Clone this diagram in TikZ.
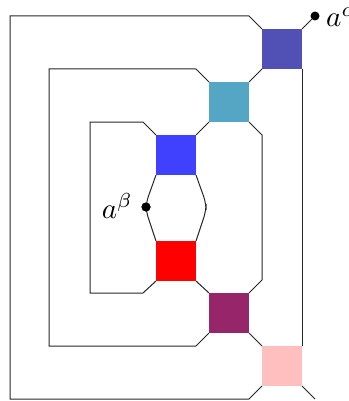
\documentclass[tikz,border=0pt]{standalone}
\usepackage{graphicx}
\begin{document}
\begin{tikzpicture}[x=1pt,y=-1pt,
  gate/.style={draw=none,minimum size=40pt,inner sep=0pt,outer sep=0pt},
  wire/.style={draw=black!85,line width=1pt},
  dotpt/.style={circle,fill=black,inner sep=0pt,minimum size=9pt},
  lbl/.style={inner sep=0pt}]
\definecolor{cA}{RGB}{81,80,180}
\definecolor{cB}{RGB}{85,165,197}
\definecolor{cC}{RGB}{64,64,255}
\definecolor{cD}{RGB}{255,0,0}
\definecolor{cE}{RGB}{150,38,105}
\definecolor{cF}{RGB}{255,191,191}
\useasboundingbox (0,0) rectangle (348,401);

% square gates
\node[gate,fill=cA] (A) at (282,49) {};
\node[gate,fill=cB] (B) at (229,102) {};
\node[gate,fill=cC] (C) at (176,155) {};
\node[gate,fill=cD] (D) at (176,261) {};
\node[gate,fill=cE] (E) at (229,313) {};
\node[gate,fill=cF] (F) at (282,366) {};

% endpoint markers and labels
\node[dotpt] (pa) at (315,16) {};
\node[dotpt] (pb) at (146,207) {};
\node[lbl,anchor=base west] (la) at (326,27) {\scalebox{2.9}{$a^\alpha$}};
\node[lbl,anchor=base east] (lb) at (133,218) {\scalebox{2.9}{$a^\beta$}};
\coordinate (out) at (315,399);

% outer loop
\draw[wire] (A.north west) -- (249,16) -- (10,16) -- (10,399) -- (249,399) -- (F.south west);
% middle loop
\draw[wire] (B.north west) -- (196,69) -- (49,69) -- (49,346) -- (196,346) -- (E.south west);
% inner loop
\draw[wire] (C.north west) -- (143,122) -- (90,122) -- (90,293) -- (143,293) -- (D.south west);

% diagonal links between gates
\draw[wire] (A.north east) -- (pa);
\draw[wire] (A.south west) -- (B.north east);
\draw[wire] (B.south west) -- (C.north east);
\draw[wire] (D.south east) -- (E.north west);
\draw[wire] (E.south east) -- (F.north west);
\draw[wire] (F.south east) -- (out);

% vertical runs
\draw[wire] (A.south east) -- (F.north east);
\draw[wire] (B.south east) -- (262,135) -- (262,280) -- (E.north east);

% bulge between the blue and red gates
\draw[wire,rounded corners=7pt] (C.south west) -- (146,203) -- (146,211) -- (D.north west);
\draw[wire,rounded corners=7pt] (C.south east) -- (206,203) -- (206,211) -- (D.north east);
\node[dotpt] at (pb) {};
\end{tikzpicture}
\end{document}
